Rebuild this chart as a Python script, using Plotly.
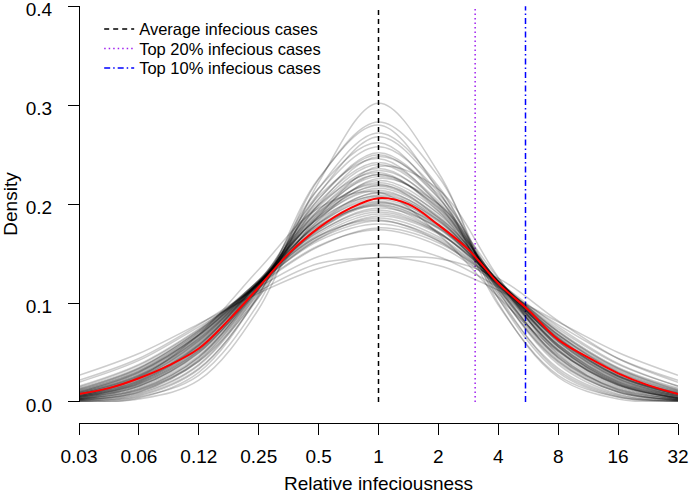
import plotly.graph_objects as go

# ---- data ----
tick_vals = [0.03125, 0.0625, 0.125, 0.25, 0.5, 1, 2, 4, 8, 16, 32]
tick_text = ["0.03", "0.06", "0.12", "0.25", "0.5", "1", "2", "4", "8", "16", "32"]
y_ticks = [0.0, 0.1, 0.2, 0.3, 0.4]

# x positions where the grey density curves were read
grey_x = [0.03125, 0.0625, 0.125, 0.25, 0.5, 1, 2, 4, 8, 16, 32]
grey_curves = [
    [0.000, 0.003, 0.022, 0.094, 0.222, 0.302, 0.232, 0.100, 0.025, 0.003, 0.000],
    [0.001, 0.005, 0.027, 0.100, 0.225, 0.283, 0.228, 0.105, 0.030, 0.005, 0.001],
    [0.000, 0.004, 0.030, 0.108, 0.226, 0.280, 0.214, 0.098, 0.027, 0.005, 0.001],
    [0.001, 0.007, 0.034, 0.106, 0.210, 0.268, 0.216, 0.112, 0.038, 0.008, 0.001],
    [0.002, 0.009, 0.038, 0.113, 0.216, 0.262, 0.208, 0.105, 0.034, 0.007, 0.001],
    [0.001, 0.008, 0.037, 0.110, 0.211, 0.258, 0.212, 0.112, 0.040, 0.010, 0.002],
    [0.002, 0.011, 0.043, 0.114, 0.205, 0.250, 0.206, 0.115, 0.044, 0.011, 0.002],
    [0.002, 0.010, 0.041, 0.111, 0.200, 0.248, 0.210, 0.118, 0.045, 0.012, 0.002],
    [0.003, 0.013, 0.046, 0.118, 0.208, 0.246, 0.200, 0.110, 0.041, 0.010, 0.002],
    [0.002, 0.012, 0.045, 0.115, 0.202, 0.242, 0.203, 0.116, 0.046, 0.013, 0.003],
    [0.003, 0.015, 0.049, 0.118, 0.197, 0.236, 0.198, 0.118, 0.049, 0.015, 0.003],
    [0.003, 0.014, 0.047, 0.115, 0.194, 0.234, 0.200, 0.121, 0.051, 0.016, 0.003],
    [0.004, 0.017, 0.052, 0.121, 0.199, 0.232, 0.193, 0.114, 0.047, 0.014, 0.003],
    [0.004, 0.016, 0.051, 0.119, 0.194, 0.230, 0.195, 0.119, 0.052, 0.017, 0.004],
    [0.003, 0.016, 0.050, 0.117, 0.192, 0.228, 0.197, 0.121, 0.053, 0.017, 0.004],
    [0.005, 0.019, 0.055, 0.120, 0.190, 0.222, 0.190, 0.120, 0.055, 0.019, 0.005],
    [0.004, 0.018, 0.053, 0.118, 0.188, 0.224, 0.193, 0.122, 0.056, 0.019, 0.004],
    [0.005, 0.020, 0.057, 0.122, 0.192, 0.220, 0.186, 0.117, 0.053, 0.018, 0.004],
    [0.005, 0.019, 0.054, 0.118, 0.187, 0.219, 0.191, 0.122, 0.057, 0.020, 0.005],
    [0.006, 0.021, 0.057, 0.120, 0.186, 0.216, 0.187, 0.121, 0.058, 0.021, 0.006],
    [0.007, 0.023, 0.060, 0.121, 0.183, 0.211, 0.183, 0.121, 0.060, 0.023, 0.007],
    [0.006, 0.022, 0.058, 0.119, 0.181, 0.212, 0.186, 0.123, 0.061, 0.023, 0.006],
    [0.007, 0.024, 0.062, 0.123, 0.185, 0.208, 0.179, 0.118, 0.058, 0.022, 0.006],
    [0.006, 0.022, 0.059, 0.120, 0.181, 0.209, 0.184, 0.122, 0.061, 0.024, 0.007],
    [0.008, 0.025, 0.062, 0.121, 0.180, 0.205, 0.180, 0.121, 0.062, 0.025, 0.008],
    [0.009, 0.027, 0.065, 0.121, 0.176, 0.200, 0.176, 0.121, 0.065, 0.027, 0.009],
    [0.008, 0.026, 0.063, 0.119, 0.174, 0.201, 0.179, 0.123, 0.066, 0.028, 0.009],
    [0.010, 0.029, 0.067, 0.123, 0.178, 0.198, 0.172, 0.118, 0.063, 0.026, 0.008],
    [0.009, 0.027, 0.064, 0.120, 0.175, 0.202, 0.177, 0.120, 0.064, 0.026, 0.008],
    [0.010, 0.030, 0.067, 0.121, 0.172, 0.194, 0.172, 0.121, 0.067, 0.030, 0.010],
    [0.012, 0.033, 0.070, 0.120, 0.167, 0.186, 0.167, 0.120, 0.070, 0.033, 0.012],
    [0.011, 0.031, 0.068, 0.119, 0.165, 0.188, 0.170, 0.122, 0.071, 0.034, 0.012],
    [0.013, 0.034, 0.072, 0.122, 0.168, 0.184, 0.163, 0.117, 0.068, 0.032, 0.011],
    [0.014, 0.035, 0.072, 0.120, 0.163, 0.180, 0.163, 0.120, 0.072, 0.035, 0.014],
    [0.016, 0.038, 0.074, 0.119, 0.158, 0.174, 0.158, 0.119, 0.074, 0.038, 0.016],
    [0.015, 0.037, 0.073, 0.118, 0.157, 0.176, 0.161, 0.121, 0.076, 0.039, 0.016],
    [0.022, 0.044, 0.078, 0.116, 0.147, 0.160, 0.147, 0.116, 0.078, 0.044, 0.022],
    [0.020, 0.042, 0.076, 0.112, 0.140, 0.146, 0.145, 0.125, 0.082, 0.044, 0.020],
    [0.027, 0.049, 0.079, 0.110, 0.135, 0.146, 0.138, 0.113, 0.081, 0.050, 0.027],
    [0.003, 0.012, 0.041, 0.106, 0.188, 0.238, 0.215, 0.126, 0.048, 0.012, 0.002],
    [0.006, 0.025, 0.068, 0.134, 0.196, 0.212, 0.170, 0.106, 0.051, 0.018, 0.004],
    [0.010, 0.030, 0.068, 0.123, 0.172, 0.196, 0.176, 0.122, 0.064, 0.026, 0.008],
    [0.005, 0.018, 0.052, 0.114, 0.184, 0.226, 0.200, 0.125, 0.056, 0.018, 0.004],
    [0.012, 0.032, 0.070, 0.122, 0.168, 0.190, 0.171, 0.122, 0.068, 0.030, 0.010],
    [0.004, 0.016, 0.050, 0.116, 0.190, 0.230, 0.196, 0.120, 0.052, 0.017, 0.004],
    [0.007, 0.024, 0.061, 0.120, 0.180, 0.207, 0.182, 0.122, 0.062, 0.024, 0.007],
    [0.009, 0.028, 0.066, 0.121, 0.174, 0.199, 0.175, 0.121, 0.065, 0.027, 0.009],
    [0.006, 0.021, 0.058, 0.121, 0.186, 0.214, 0.184, 0.120, 0.058, 0.021, 0.006],
    [0.011, 0.031, 0.068, 0.120, 0.170, 0.192, 0.171, 0.121, 0.068, 0.031, 0.011],
    [0.003, 0.013, 0.045, 0.116, 0.199, 0.240, 0.201, 0.116, 0.045, 0.013, 0.003],
    [0.001, 0.006, 0.033, 0.108, 0.216, 0.272, 0.218, 0.108, 0.032, 0.006, 0.001],
    [0.008, 0.026, 0.064, 0.121, 0.178, 0.203, 0.178, 0.121, 0.063, 0.026, 0.008],
    [0.013, 0.034, 0.071, 0.120, 0.165, 0.183, 0.165, 0.120, 0.071, 0.034, 0.013],
    [0.005, 0.020, 0.056, 0.120, 0.188, 0.218, 0.188, 0.120, 0.056, 0.020, 0.005],
    [0.002, 0.010, 0.042, 0.114, 0.205, 0.252, 0.207, 0.114, 0.042, 0.010, 0.002],
]

# average density (red curve)
mean_x = [0.03125, 0.0442, 0.0625, 0.0884, 0.125, 0.177, 0.25, 0.354, 0.5, 0.707,
          1, 1.414, 2, 2.83, 4, 5.66, 8, 11.3, 16, 22.6, 32]
mean_y = [0.008, 0.014, 0.024, 0.037, 0.054, 0.083, 0.116, 0.150, 0.176, 0.195,
          0.206, 0.200, 0.179, 0.154, 0.120, 0.093, 0.063, 0.045, 0.029, 0.017, 0.008]

# reference lines
ref_names = ["Average infecious cases", "Top 20% infecious cases", "Top 10% infecious cases"]
ref_x = [1.0, 3.06, 5.48]
ref_colors = ["#000000", "#A020F0", "#0000FF"]
ref_dash = ["5px,4px", "1.5px,3px", "6px,3px,1.5px,3px"]
y_limits = [0.0, 0.4]

FONT = "Liberation Sans, Arial, Helvetica, sans-serif"
legend_ids = ["legend", "legend2", "legend3"]
legend_tops = [0.9863, 0.9396, 0.8928]

fig = go.Figure()

for name, xv, col, dsh, lid in zip(ref_names, ref_x, ref_colors, ref_dash, legend_ids):
    fig.add_trace(go.Scatter(
        x=[xv, xv], y=y_limits, mode="lines", name=name,
        line=dict(color=col, width=1.5, dash=dsh),
        hoverinfo="skip", legend=lid,
    ))

for curve in grey_curves:
    fig.add_trace(go.Scatter(
        x=grey_x, y=curve, mode="lines", showlegend=False,
        line=dict(color="rgba(0,0,0,0.2)", width=1.5, shape="spline", smoothing=1.0),
        hoverinfo="skip",
    ))

fig.add_trace(go.Scatter(
    x=mean_x, y=mean_y, mode="lines", showlegend=False,
    line=dict(color="#FF0000", width=2, shape="spline", smoothing=1.0),
))

legend_style = dict(
    x=0.0337, xanchor="left", yanchor="top",
    bgcolor="rgba(0,0,0,0)", borderwidth=0,
    font=dict(family=FONT, size=16.5, color="black"),
)

fig.update_layout(
    width=689, height=494,
    margin=dict(l=79, r=11, t=6, b=71),
    paper_bgcolor="white", plot_bgcolor="white",
    font=dict(family=FONT, size=19, color="black"),
    showlegend=True,
    legend=dict(y=legend_tops[0], **legend_style),
    legend2=dict(y=legend_tops[1], **legend_style),
    legend3=dict(y=legend_tops[2], **legend_style),
    xaxis=dict(
        type="log",
        range=[-1.50515, 1.50516],
        tickvals=tick_vals, ticktext=tick_text,
        ticks="outside", ticklen=11, tickwidth=1, tickcolor="black",
        showline=True, linecolor="black", linewidth=1,
        showgrid=False, zeroline=False,
        anchor="free", position=0,
        ticklabelstandoff=5, ticklabeloverflow="allow",
        title=dict(text="Relative infeciousness", font=dict(size=19), standoff=10),
        automargin=False,
    ),
    yaxis=dict(
        range=[0.0, 0.4003],
        domain=[0.0504, 1],
        tickvals=y_ticks, ticktext=["0.0", "0.1", "0.2", "0.3", "0.4"],
        ticks="outside", ticklen=11, tickwidth=1, tickcolor="black",
        showline=True, linecolor="black", linewidth=1,
        showgrid=False, zeroline=False,
        anchor="free", position=0,
        ticklabelstandoff=12, ticklabeloverflow="allow", ticklabelshift=3,
        title=dict(text="Density", font=dict(size=19), standoff=16),
        automargin=False,
    ),
)

fig.write_html(
    "out.html",
    config={"displayModeBar": False},
    post_script="document.body.style.margin='0';document.body.style.padding='0';",
)
